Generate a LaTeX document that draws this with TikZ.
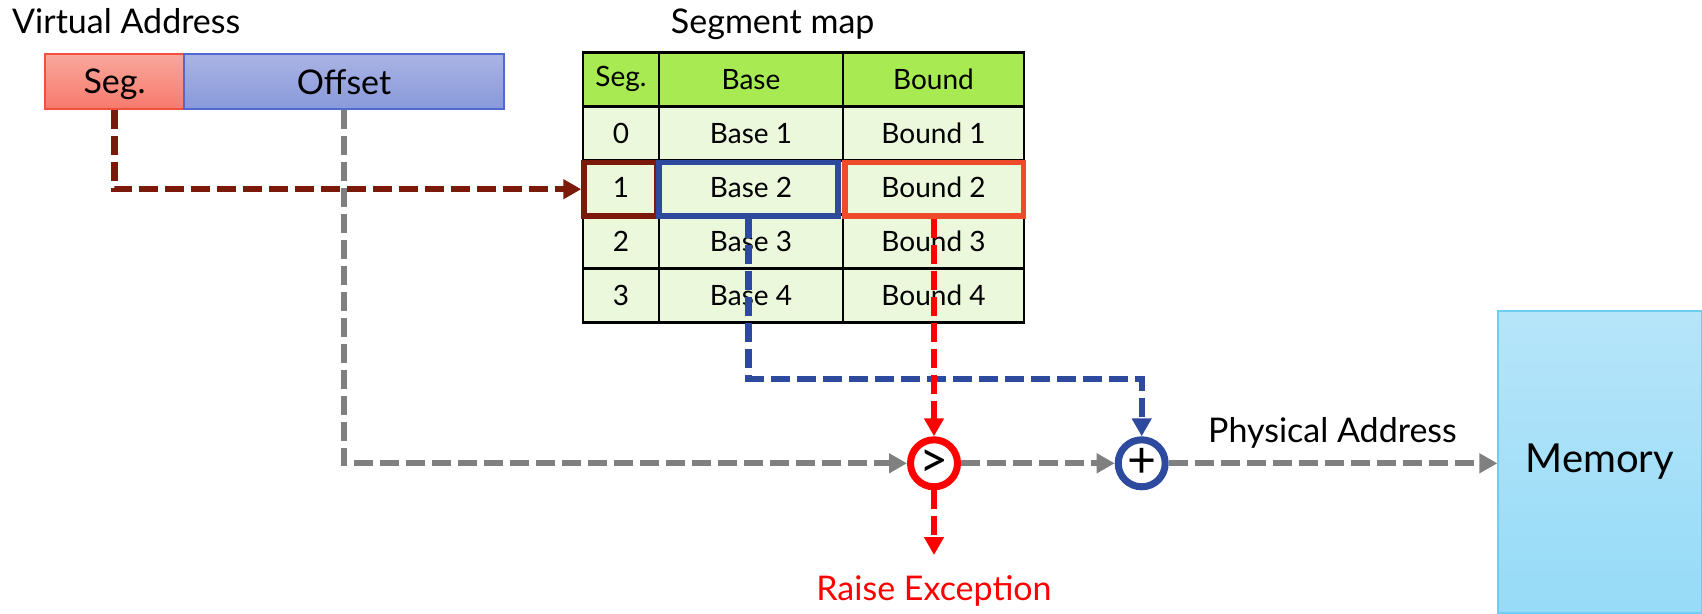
\documentclass[tikz,border=0pt]{standalone}
\usepackage{fontspec}
\setmainfont{Lato}
\usetikzlibrary{arrows.meta}
\definecolor{segdark}{HTML}{7B1A0A}
\definecolor{selblue}{HTML}{2E4A9E}
\definecolor{selred}{HTML}{EE4B2B}
\definecolor{hdrgreen}{HTML}{A8EA52}
\definecolor{bodygreen}{HTML}{EBF8DB}
\definecolor{segtop}{HTML}{F9A79C}
\definecolor{segbot}{HTML}{F77A6C}
\definecolor{segborder}{HTML}{F0503C}
\definecolor{offtop}{HTML}{AAB4E4}
\definecolor{offbot}{HTML}{8898DA}
\definecolor{offborder}{HTML}{5069CF}
\definecolor{memtop}{HTML}{B6E5F9}
\definecolor{membot}{HTML}{96DBF8}
\definecolor{memborder}{HTML}{6DCDF2}
\definecolor{flowgray}{HTML}{808080}
\begin{document}
\begin{tikzpicture}[x=1pt,y=-1pt,
  bigtext/.style={font=\fontsize{34}{40}\selectfont, inner sep=0pt},
  celltext/.style={font=\fontsize{28}{34}\selectfont},
  cell/.style={draw=black, line width=2.7pt, inner sep=0pt, outer sep=0pt, minimum height=54pt, celltext},
  hdr/.style={cell, fill=hdrgreen},
  body/.style={cell, fill=bodygreen},
  sel/.style={draw=#1, line width=5.5pt, inner sep=0pt, minimum height=53.7pt},
  flow/.style={line width=6.2pt, dash pattern=on 19pt off 7pt, -{Triangle[length=18pt,width=19pt]}},
  op/.style={circle, draw=#1, line width=7pt, fill=white, minimum size=47pt, inner sep=0pt, font=\fontsize{50}{54}\selectfont}
]
\useasboundingbox (0,0) rectangle (1702,613);

% virtual address
\node[bigtext, anchor=base west] (vatitle) at (12,33.3) {Virtual Address};
\node[draw=segborder, line width=1.3pt, top color=segtop, bottom color=segbot,
      minimum width=139pt, minimum height=55pt, inner sep=0pt] (segbox) at (114.5,81.5) {};
\node[bigtext, anchor=base] (segtxt) at (114.5,93.3) {Seg.};
\node[draw=offborder, line width=1.3pt, top color=offtop, bottom color=offbot,
      minimum width=320pt, minimum height=55pt, inner sep=0pt] (offbox) at (344,81.5) {};
\node[bigtext, anchor=base] (offtxt) at (344,94) {Offset};

% segment map
\node[bigtext, anchor=base] (smtitle) at (772.7,33.3) {Segment map};
\node[hdr, minimum width=76pt]  (h0) at (621,79.3) {Seg.};
\node[hdr, minimum width=184pt] (h1) at (751,79.3) {Base};
\node[hdr, minimum width=181pt] (h2) at (933.5,79.3) {Bound};
\foreach \r/\y in {0/133.3,1/187.3,2/241.3,3/295.3}{
  \pgfmathtruncatemacro{\n}{\r+1}
  \node[body, minimum width=76pt]  (r\r c0) at (621,\y) {\r};
  \node[body, minimum width=184pt] (r\r c1) at (751,\y) {Base \n};
  \node[body, minimum width=181pt] (r\r c2) at (933.5,\y) {Bound \n};
}
\node[sel=segdark, minimum width=73pt]    (segsel)   at (620.5,189.2) {};
\node[sel=selred, minimum width=178.7pt]  (boundsel) at (934.3,189.2) {};
\node[sel=selblue, minimum width=179pt]   (basesel)  at (748.5,189.2) {};

% operators
\node[op=red] (cmp) at (934,463.3) {>};
\node[op=selblue] (add) at (1141.7,463.3) {+};

% memory
\node[draw=memborder, line width=1.3pt, top color=memtop, bottom color=membot,
      minimum width=203.5pt, minimum height=302pt, inner sep=0pt,
      font=\fontsize{40}{46}\selectfont] (mem) at (1599.75,462) {Memory};

% labels
\node[bigtext, anchor=base] (physlbl) at (1332.5,442) {Physical Address};
\node[bigtext, anchor=base, text=red] (raiselbl) at (934,600) {Raise Exception};
\coordinate (exc) at (934,555);

% connectors
\draw[flow, segdark] (segbox.south) |- (segsel.west);
\draw[flow, flowgray] (offbox.south) |- (cmp.west);
\draw[flow, selblue] (basesel.south) -- ++(0,160) -| (add.north);
\draw[flow, red] (cmp.north |- boundsel.south) -- (cmp.north);
\draw[flow, flowgray] (cmp.east) -- (add.west);
\draw[flow, flowgray] (add.east) -- (add.east -| mem.west);
\draw[flow, red] (cmp.south) -- (exc);
\end{tikzpicture}
\end{document}
